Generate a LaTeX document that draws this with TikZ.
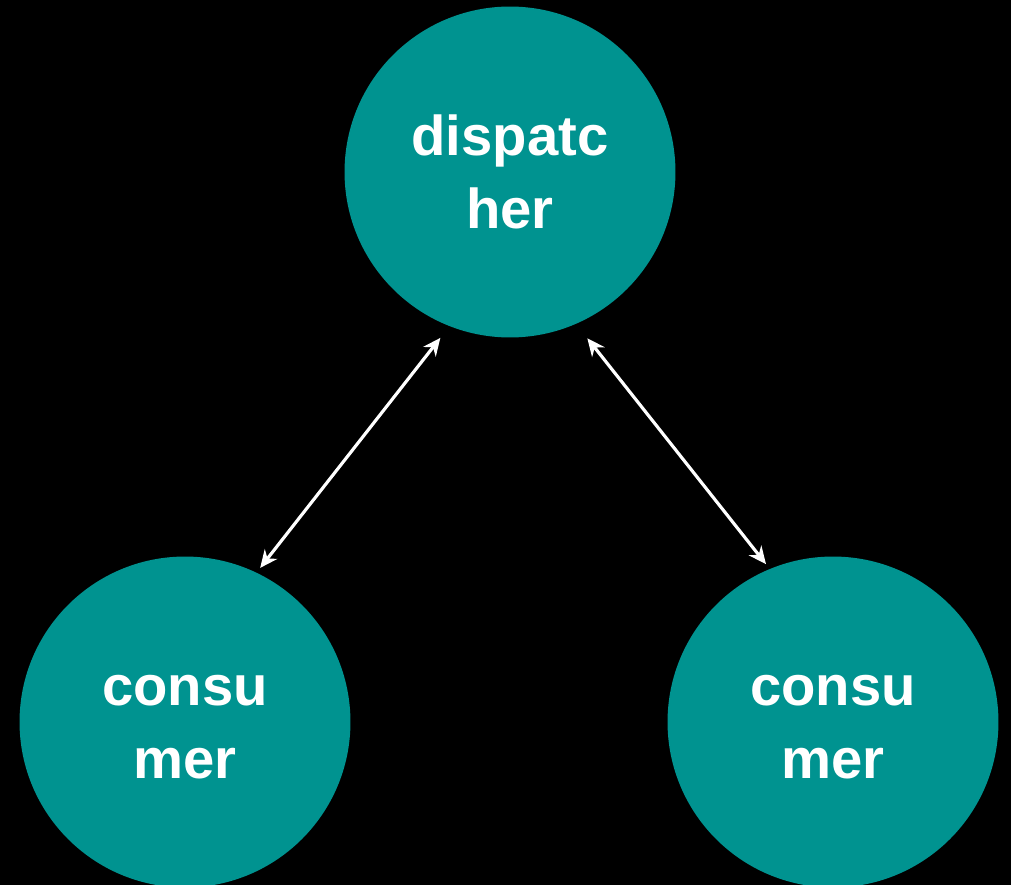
\documentclass[tikz,border=0pt]{standalone}
\usepackage{fontspec}
\setmainfont{Liberation Sans}
\usetikzlibrary{arrows.meta}
\definecolor{tealfill}{RGB}{0,147,144}
\tikzset{%
    ball/.style={circle,fill=tealfill,minimum size=6.62cm,inner sep=0pt,outer sep=0.12cm,
        text=white,font=\bfseries\fontsize{32}{42}\selectfont,align=center}
}

\begin{document}
\begin{tikzpicture}[x=0.02cm,y=-0.02cm,
        link/.style={draw=white,line width=1.8pt,{Stealth[length=10pt,width=9pt]}-{Stealth[length=10pt,width=9pt]}}]
        \fill[black] (0,0) rectangle (1011,885);
        \useasboundingbox (0,0) rectangle (1011,885);
        \node[ball] (d) at (510,172){dispatc\\her};
        \node[ball] (c1) at (185,722){\vphantom{d}consu\\mer};
        \node[ball] (c2) at (833,722){\vphantom{d}consu\\mer};

        \path[]
            (d.248) edge[link,shorten <=5pt] (c1.64)
            (d.294) edge[link,shorten <=7pt] (c2.113);
    \end{tikzpicture}
\end{document}
